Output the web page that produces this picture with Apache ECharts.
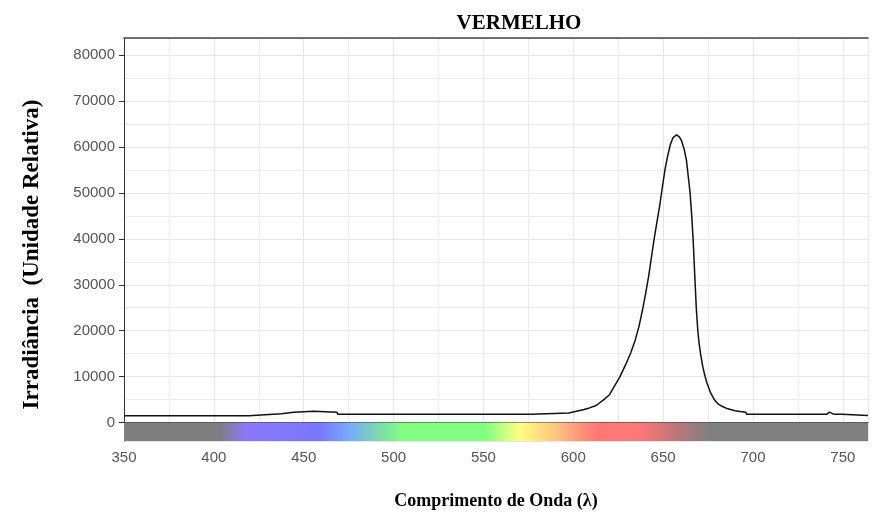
<!DOCTYPE html>
<html><head><meta charset="utf-8">
<script src="https://cdn.jsdelivr.net/npm/echarts@6/dist/echarts.min.js"></script>
<style>html,body{margin:0;padding:0;background:#fff}#c{width:877px;height:524px}</style>
</head><body><div id="c"></div>
<script>
// Spectrum (wavelength in nm, relative irradiance)
const wavelengths = [350,419.5,420,437.5,438,444.5,445,455.5,456,468.5,469,577,577.5,597.5,598,603,606,609,612,614,617,620,623,626,629,632,634.5,636.6,638.5,640.3,642,643.5,645,646.5,648,649.5,651,652.5,654,655.5,657.5,659,660.3,661.7,663,664,665,666,666.8,667.6,668.5,669.3,670,671,672,673.3,674.5,676.5,678.5,680.5,683,686,690,693,696,696.5,741,742.5,744,745.5,749.5,750,764];
const irradiance  = [1520,1520,1950,1950,2250,2250,2500,2500,2250,2250,1800,1800,2100,2100,2350,2600,2850,3200,3600,4100,5000,6000,8000,10000,12500,15200,18000,21000,24500,28200,32000,36000,40000,43500,47000,51000,55000,58000,60500,62000,62600,62200,61300,59500,57000,53500,50000,44500,39000,32000,24600,20000,17300,14500,12300,10100,8500,6400,5000,4100,3500,3000,2600,2400,2250,1800,1800,2300,2000,1800,1800,1550,1550];
// Visible-spectrum colour band under the axis
const bandWavelengths = [350,403,418,443,458,475,490,505,551,559,570,592,605,614,636,656,675,764];
const bandColors = ['#7f7f7f','#7f7f7f','#8a78ff','#8078ff','#7777ff','#77aaff','#7dd6b0','#80ff80','#80ff80','#b8ff80','#ffff80','#ffc080','#ff9078','#ff7777','#ff7777','#c07878','#808080','#808080'];
const bandRange = [-4000, 0];
const xRange = [350, 764];
const yRange = [-4000, 83700];

const stops = bandWavelengths.map((w, i) => ({
  offset: (w - xRange[0]) / (xRange[1] - xRange[0]),
  color: bandColors[i]
}));

const chart = echarts.init(document.getElementById('c'), null, {renderer: 'canvas'});
const tickFont = {color: '#555', fontSize: 15, fontFamily: '"Liberation Sans Narrow", "Liberation Sans", Arial, sans-serif'};
const serif = '"Liberation Serif", "Times New Roman", serif';
chart.setOption({
  animation: false,
  backgroundColor: '#fff',
  title: {
    text: 'VERMELHO', left: 514, top: 8, textAlign: 'center',
    textStyle: {fontFamily: serif, fontWeight: 'bold', fontSize: 21, color: '#000'}
  },
  grid: {left: 124, top: 38, right: 9, bottom: 83, containLabel: false},
  xAxis: [{
    type: 'value', min: xRange[0], max: xRange[1], interval: 50,
    name: 'Comprimento de Onda (λ)', nameLocation: 'middle', nameGap: 51,
    nameTextStyle: {fontFamily: serif, fontWeight: 'bold', fontSize: 18, color: '#000'},
    axisLine: {show: true, lineStyle: {color: '#333', width: 1}},
    axisTick: {show: true, length: 5, lineStyle: {color: '#333'}},
    axisLabel: Object.assign({margin: 9, showMaxLabel: false, formatter: v => String(v)}, tickFont),
    splitLine: {show: true, lineStyle: {color: '#e6e6e6', width: 1}},
    minorTick: {show: false, splitNumber: 2},
    minorSplitLine: {show: true, lineStyle: {color: '#ececec', width: 1}}
  }, {
    type: 'value', position: 'top', min: xRange[0], max: xRange[1],
    axisLine: {show: true, onZero: false, lineStyle: {color: '#444', width: 1.5}},
    axisTick: {show: false}, axisLabel: {show: false}, splitLine: {show: false}
  }],
  yAxis: {
    type: 'value', min: yRange[0], max: yRange[1], splitNumber: 9,
    name: 'Irradiância  (Unidade Relativa)', nameLocation: 'middle', nameGap: 80, nameRotate: 90,
    nameTextStyle: {fontFamily: serif, fontWeight: 'bold', fontSize: 23, color: '#000', padding: [0, 30, 0, 0]},
    axisLine: {show: true, onZero: false, lineStyle: {color: '#333', width: 1}},
    axisTick: {show: true, length: 5, lineStyle: {color: '#333'}},
    axisLabel: Object.assign({margin: 9, showMinLabel: false, showMaxLabel: false, formatter: v => String(v)}, tickFont),
    splitLine: {show: true, lineStyle: {color: '#e6e6e6', width: 1}},
    minorTick: {show: false, splitNumber: 2},
    minorSplitLine: {show: true, lineStyle: {color: '#ececec', width: 1}}
  },
  series: [{
    type: 'line',
    data: wavelengths.map((w, i) => [w, irradiance[i]]),
    showSymbol: false, symbol: 'none', smooth: false,
    lineStyle: {color: '#111', width: 1.5},
    z: 5,
    markArea: {
      silent: true,
      itemStyle: {color: new echarts.graphic.LinearGradient(0, 0, 1, 0, stops)},
      data: [[{coord: [xRange[0], bandRange[0]]}, {coord: [xRange[1], bandRange[1]]}]]
    }
  }]
});
</script></body></html>
